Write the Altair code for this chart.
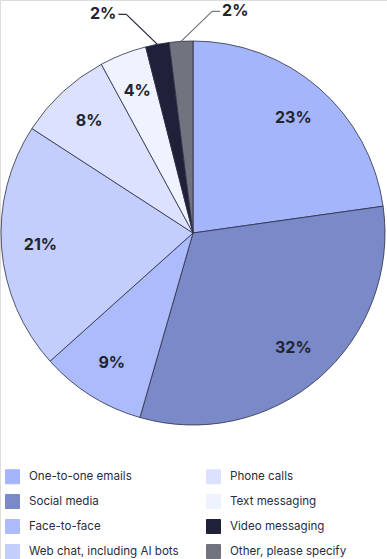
import altair as alt
import pandas as pd

categories = ["One-to-one emails", "Social media", "Face-to-face", "Web chat, including AI bots",
              "Phone calls", "Text messaging", "Video messaging", "Other, please specify"]
values = [23, 32, 9, 21, 8, 4, 2, 2]
colors = ["#a4b5fb", "#7a89c8", "#acbbfc", "#c3cefd", "#dbe1fe", "#eff2ff", "#1e2138", "#71747f"]

df = pd.DataFrame({"category": categories, "value": values, "idx": list(range(len(categories)))})

CX, CY, R = 193, 233, 192
FONT = "Inter"

color_scale = alt.Scale(domain=categories, range=colors)

base = alt.Chart(df)

pie = base.mark_arc(outerRadius=R, stroke="#2b2e45", strokeWidth=0.8).encode(
    theta=alt.Theta("value:Q", stack=True),
    order=alt.Order("idx:Q"),
    color=alt.Color("category:N", scale=color_scale,
                    legend=alt.Legend(title=None, orient="none", legendX=5, legendY=469,
                                      columns=2, columnPadding=25, rowPadding=6,
                                      symbolType="square", symbolSize=196,
                                      symbolStrokeColor="#5a5e74", symbolStrokeWidth=1,
                                      symbolOpacity=1, labelFont=FONT, labelFontSize=11.6,
                                      labelColor="#2a2d3e", labelOffset=9, labelLimit=300)),
    x=alt.value(CX), y=alt.value(CY),
)

inner = base.transform_calculate(
    lab="datum.value >= 3 ? datum.value + '%' : ''"
).mark_text(radius=153, font=FONT, fontWeight="bold", fontSize=16, color="#222430").encode(
    theta=alt.Theta("value:Q", stack=True),
    order=alt.Order("idx:Q"),
    text="lab:N",
    x=alt.value(CX), y=alt.value(CY),
)

outer_base = base.transform_window(
    cum="sum(value)", sort=[alt.SortField("idx")]
).transform_joinaggregate(total="sum(value)").transform_calculate(
    mid="(datum.cum - datum.value / 2) / datum.total * 2 * PI"
).transform_filter("datum.value < 3").transform_calculate(
    side="datum.mid > 6.19 ? 1 : -1",
    ex=f"{CX} + {R} * sin(datum.mid)",
    ey=f"{CY} - {R} * cos(datum.mid)",
).transform_calculate(
    bx="datum.ex + datum.side * 31",
    by="datum.ey - 30",
).transform_calculate(
    hx="datum.bx + datum.side * 8",
    tx="datum.bx + datum.side * 10",
    lab="datum.value + '%'",
)

seg1 = outer_base.mark_rule(strokeWidth=1.2).encode(
    x=alt.X("ex:Q", scale=None), y=alt.Y("ey:Q", scale=None),
    x2="bx:Q", y2="by:Q",
    color=alt.Color("category:N", scale=color_scale, legend=None),
)
seg2 = outer_base.mark_rule(strokeWidth=1.2).encode(
    x=alt.X("bx:Q", scale=None), y=alt.Y("by:Q", scale=None),
    x2="hx:Q", y2="by:Q",
    color=alt.Color("category:N", scale=color_scale, legend=None),
)
lab_left = outer_base.transform_filter("datum.side < 0").mark_text(
    align="right", baseline="middle", font=FONT, fontWeight="bold", fontSize=16, color="#222430"
).encode(x=alt.X("tx:Q", scale=None), y=alt.Y("by:Q", scale=None), text="lab:N")
lab_right = outer_base.transform_filter("datum.side > 0").mark_text(
    align="left", baseline="middle", font=FONT, fontWeight="bold", fontSize=16, color="#222430"
).encode(x=alt.X("tx:Q", scale=None), y=alt.Y("by:Q", scale=None), text="lab:N")

chart = alt.layer(pie, inner, seg1, seg2, lab_left, lab_right).properties(
    width=387, height=559, padding=0, autosize=alt.AutoSizeParams(type="none")
).configure_view(stroke=None).configure(background="white")

chart.save("out.html", embed_options={"renderer": "svg", "actions": False})
